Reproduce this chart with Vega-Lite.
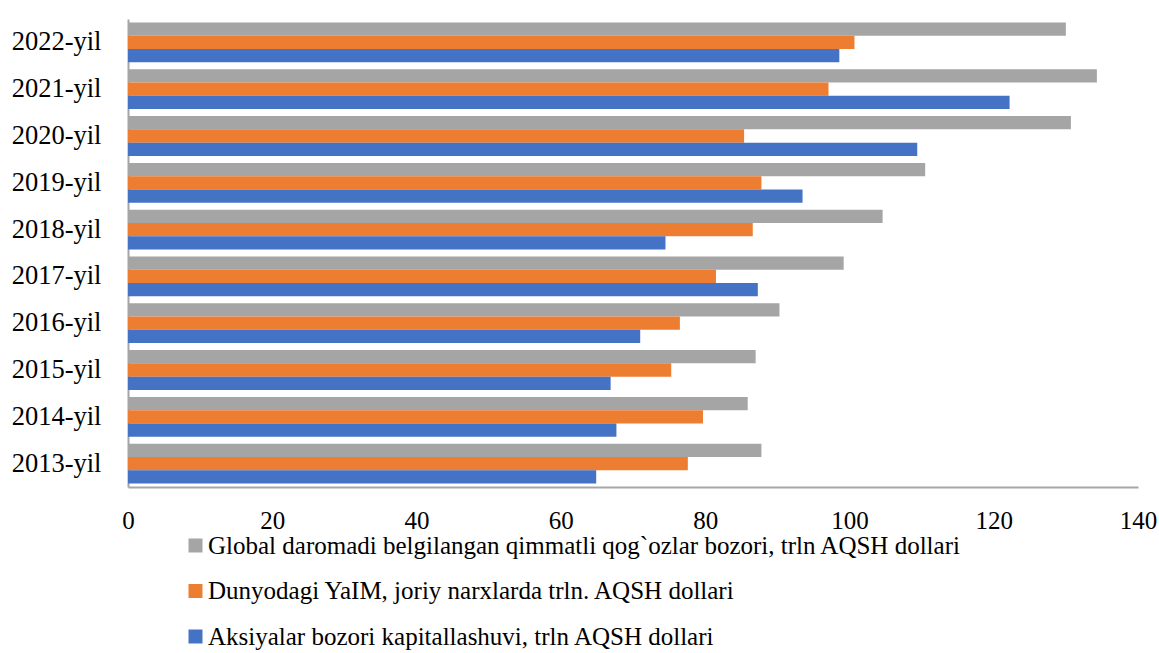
{
  "$schema": "https://vega.github.io/schema/vega-lite/v6.json",
  "width": 1010,
  "height": 468,
  "autosize": {"type": "none"},
  "padding": {"left": 128, "top": 19, "right": 21, "bottom": 166},
  "background": "white",
  "config": {
    "view": {"stroke": null},
    "font": "Liberation Serif"
  },
  "data": {
    "values": [
      {"year": "2022-yil", "series": "Global daromadi belgilangan qimmatli qog`ozlar bozori, trln AQSH dollari", "value": 130.0},
      {"year": "2022-yil", "series": "Dunyodagi YaIM, joriy narxlarda trln. AQSH dollari", "value": 100.7},
      {"year": "2022-yil", "series": "Aksiyalar bozori kapitallashuvi, trln AQSH dollari", "value": 98.6},
      {"year": "2021-yil", "series": "Global daromadi belgilangan qimmatli qog`ozlar bozori, trln AQSH dollari", "value": 134.3},
      {"year": "2021-yil", "series": "Dunyodagi YaIM, joriy narxlarda trln. AQSH dollari", "value": 97.1},
      {"year": "2021-yil", "series": "Aksiyalar bozori kapitallashuvi, trln AQSH dollari", "value": 122.2},
      {"year": "2020-yil", "series": "Global daromadi belgilangan qimmatli qog`ozlar bozori, trln AQSH dollari", "value": 130.7},
      {"year": "2020-yil", "series": "Dunyodagi YaIM, joriy narxlarda trln. AQSH dollari", "value": 85.4},
      {"year": "2020-yil", "series": "Aksiyalar bozori kapitallashuvi, trln AQSH dollari", "value": 109.4},
      {"year": "2019-yil", "series": "Global daromadi belgilangan qimmatli qog`ozlar bozori, trln AQSH dollari", "value": 110.5},
      {"year": "2019-yil", "series": "Dunyodagi YaIM, joriy narxlarda trln. AQSH dollari", "value": 87.8},
      {"year": "2019-yil", "series": "Aksiyalar bozori kapitallashuvi, trln AQSH dollari", "value": 93.5},
      {"year": "2018-yil", "series": "Global daromadi belgilangan qimmatli qog`ozlar bozori, trln AQSH dollari", "value": 104.6},
      {"year": "2018-yil", "series": "Dunyodagi YaIM, joriy narxlarda trln. AQSH dollari", "value": 86.6},
      {"year": "2018-yil", "series": "Aksiyalar bozori kapitallashuvi, trln AQSH dollari", "value": 74.5},
      {"year": "2017-yil", "series": "Global daromadi belgilangan qimmatli qog`ozlar bozori, trln AQSH dollari", "value": 99.2},
      {"year": "2017-yil", "series": "Dunyodagi YaIM, joriy narxlarda trln. AQSH dollari", "value": 81.5},
      {"year": "2017-yil", "series": "Aksiyalar bozori kapitallashuvi, trln AQSH dollari", "value": 87.3},
      {"year": "2016-yil", "series": "Global daromadi belgilangan qimmatli qog`ozlar bozori, trln AQSH dollari", "value": 90.3},
      {"year": "2016-yil", "series": "Dunyodagi YaIM, joriy narxlarda trln. AQSH dollari", "value": 76.5},
      {"year": "2016-yil", "series": "Aksiyalar bozori kapitallashuvi, trln AQSH dollari", "value": 71.0},
      {"year": "2015-yil", "series": "Global daromadi belgilangan qimmatli qog`ozlar bozori, trln AQSH dollari", "value": 87.0},
      {"year": "2015-yil", "series": "Dunyodagi YaIM, joriy narxlarda trln. AQSH dollari", "value": 75.3},
      {"year": "2015-yil", "series": "Aksiyalar bozori kapitallashuvi, trln AQSH dollari", "value": 66.9},
      {"year": "2014-yil", "series": "Global daromadi belgilangan qimmatli qog`ozlar bozori, trln AQSH dollari", "value": 85.9},
      {"year": "2014-yil", "series": "Dunyodagi YaIM, joriy narxlarda trln. AQSH dollari", "value": 79.7},
      {"year": "2014-yil", "series": "Aksiyalar bozori kapitallashuvi, trln AQSH dollari", "value": 67.7},
      {"year": "2013-yil", "series": "Global daromadi belgilangan qimmatli qog`ozlar bozori, trln AQSH dollari", "value": 87.8},
      {"year": "2013-yil", "series": "Dunyodagi YaIM, joriy narxlarda trln. AQSH dollari", "value": 77.6},
      {"year": "2013-yil", "series": "Aksiyalar bozori kapitallashuvi, trln AQSH dollari", "value": 64.9}
    ]
  },
  "mark": {"type": "bar", "stroke": null},
  "encoding": {
    "y": {
      "field": "year",
      "type": "nominal",
      "sort": "descending",
      "scale": {"paddingInner": 0.15, "paddingOuter": 0.075},
      "axis": {
        "title": null,
        "ticks": false,
        "labelFontSize": 26.5,
        "labelColor": "#000000",
        "labelFont": "Liberation Serif",
        "labelPadding": 27,
        "domainColor": "#A6A6A6",
        "domainWidth": 2
      }
    },
    "yOffset": {
      "field": "series",
      "type": "nominal",
      "scale": {
        "domain": [
          "Global daromadi belgilangan qimmatli qog`ozlar bozori, trln AQSH dollari",
          "Dunyodagi YaIM, joriy narxlarda trln. AQSH dollari",
          "Aksiyalar bozori kapitallashuvi, trln AQSH dollari"
        ],
        "paddingInner": 0,
        "paddingOuter": 0
      }
    },
    "x": {
      "field": "value",
      "type": "quantitative",
      "scale": {"domain": [0, 140], "nice": false},
      "axis": {
        "title": null,
        "values": [0, 20, 40, 60, 80, 100, 120, 140],
        "grid": false,
        "ticks": false,
        "labelFontSize": 25,
        "labelColor": "#000000",
        "labelFont": "Liberation Serif",
        "labelPadding": 21,
        "labelFlush": false,
        "domainColor": "#A6A6A6",
        "domainWidth": 2
      }
    },
    "color": {
      "field": "series",
      "type": "nominal",
      "scale": {
        "domain": [
          "Global daromadi belgilangan qimmatli qog`ozlar bozori, trln AQSH dollari",
          "Dunyodagi YaIM, joriy narxlarda trln. AQSH dollari",
          "Aksiyalar bozori kapitallashuvi, trln AQSH dollari"
        ],
        "range": ["#A5A5A5", "#ED7D31", "#4472C4"]
      },
      "legend": {
        "title": null,
        "orient": "none",
        "direction": "vertical",
        "legendX": 55,
        "legendY": 514,
        "padding": 0,
        "symbolType": "square",
        "symbolSize": 196,
        "symbolStrokeWidth": 0,
        "labelFontSize": 25,
        "labelFont": "Liberation Serif",
        "labelColor": "#000000",
        "labelOffset": 0,
        "labelLimit": 1000,
        "rowPadding": 19.5
      }
    }
  }
}
